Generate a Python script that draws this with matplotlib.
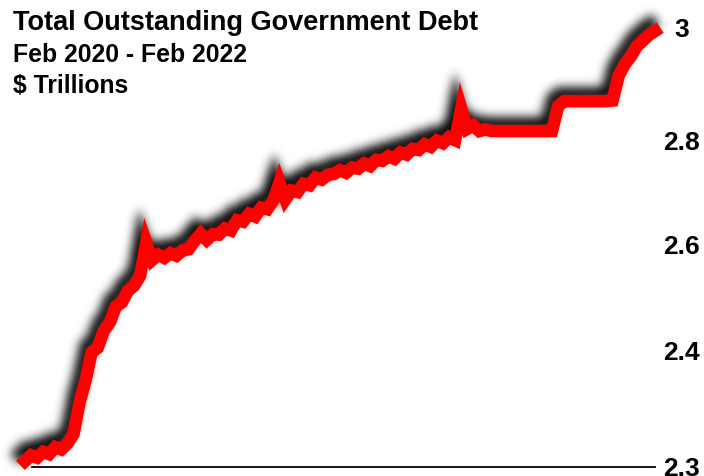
import numpy as np
import pandas as pd
import matplotlib
matplotlib.use('Agg')
import matplotlib.pyplot as plt

plt.rcParams['font.family'] = ['Liberation Sans', 'DejaVu Sans']

# weekly total outstanding debt, $ trillions
weeks = pd.date_range('2020-02-02', periods=105, freq='W')
debt = [
    2.305, 2.310, 2.308, 2.313, 2.311, 2.317, 2.315, 2.320,
    2.328, 2.355, 2.374, 2.398, 2.404, 2.436, 2.452, 2.482,
    2.490, 2.512, 2.521, 2.540, 2.603, 2.570, 2.580, 2.574,
    2.583, 2.578, 2.588, 2.590, 2.606, 2.620, 2.608, 2.619,
    2.618, 2.630, 2.626, 2.646, 2.643, 2.658, 2.653, 2.670,
    2.667, 2.684, 2.719, 2.686, 2.703, 2.700, 2.716, 2.713,
    2.728, 2.724, 2.733, 2.735, 2.742, 2.737, 2.747, 2.745,
    2.755, 2.750, 2.762, 2.760, 2.769, 2.764, 2.776, 2.772,
    2.783, 2.781, 2.792, 2.787, 2.799, 2.794, 2.805, 2.800,
    2.856, 2.820, 2.826, 2.816, 2.819, 2.816, 2.816, 2.816,
    2.816, 2.816, 2.816, 2.816, 2.816, 2.816, 2.816, 2.816,
    2.860, 2.869, 2.869, 2.869, 2.869, 2.869, 2.869, 2.869,
    2.869, 2.870, 2.914, 2.934, 2.948, 2.966, 2.976, 2.986,
    2.993,
]
yticks = [2.3, 2.4, 2.6, 2.8, 3.0]
ylabels = ['2.3', '2.4', '2.6', '2.8', '3']

# the chart's value axis is not evenly spaced: piecewise linear scale
knots = [2.0, 2.3, 2.4, 2.6, 2.8, 3.0, 3.5]
heights = [-351, 0, 117, 223, 327, 440, 722.5]


def fwd(v):
    return np.interp(v, knots, heights)


def inv(h):
    return np.interp(h, heights, knots)


def shadow(im, dpi):
    # blurred dark copy of the line, nudged up and to the left
    pad = 30
    a = np.pad(im[:, :, 3], pad)
    r = 15
    k = np.exp(-0.5 * (np.arange(-r, r + 1) / 5.0) ** 2)
    k /= k.sum()
    b = np.zeros_like(a)
    for i, w in enumerate(k):
        b += w * np.roll(a, i - r, axis=0)
    c = np.zeros_like(b)
    for i, w in enumerate(k):
        c += w * np.roll(b, i - r, axis=1)
    c = np.roll(c, -7, axis=0)
    c = np.roll(c, -5, axis=1)
    out = np.zeros(c.shape + (4,))
    out[..., 3] = np.clip(c * 1.0, 0, 1)
    return out, -pad, -pad


fig = plt.figure(figsize=(7.04, 4.76), dpi=100)
ax = fig.add_axes([25 / 704, 9 / 476, 630 / 704, 467 / 476])
ax.set_yscale('function', functions=(fwd, inv))

sh, = ax.plot(weeks, debt, color='black', lw=10, clip_on=False,
              solid_joinstyle='miter', zorder=2)
sh.set_agg_filter(shadow)
sh.set_rasterized(True)
ax.plot(weeks, debt, color='#ff0000', lw=9, clip_on=False,
        solid_joinstyle='miter', zorder=3)

ax.set_xlim(weeks[0], weeks[-1])
ax.set_ylim(2.3, 3.048)
for s in ax.spines.values():
    s.set_visible(False)
ax.axhline(2.3, xmin=0.011, xmax=1, color='black', lw=1.3, clip_on=False)

ax.set_xticks([])
ax.yaxis.tick_right()
ax.set_yticks(yticks)
ax.set_yticks([], minor=True)
ax.set_yticklabels(ylabels, fontsize=19, fontweight='bold')
ax.tick_params(axis='y', length=0, pad=19)
for t in ax.get_yticklabels():
    t.set_ha('center')

fig.text(13 / 704, 1 - 30 / 476, 'Total Outstanding Government Debt',
         fontsize=19.5, fontweight='bold', va='baseline')
fig.text(13 / 704, 1 - 62 / 476, 'Feb 2020 - Feb 2022',
         fontsize=17.8, fontweight='bold', va='baseline')
fig.text(13 / 704, 1 - 93 / 476, '$ Trillions',
         fontsize=17.8, fontweight='bold', va='baseline')

fig.savefig('out.png', dpi=100)
